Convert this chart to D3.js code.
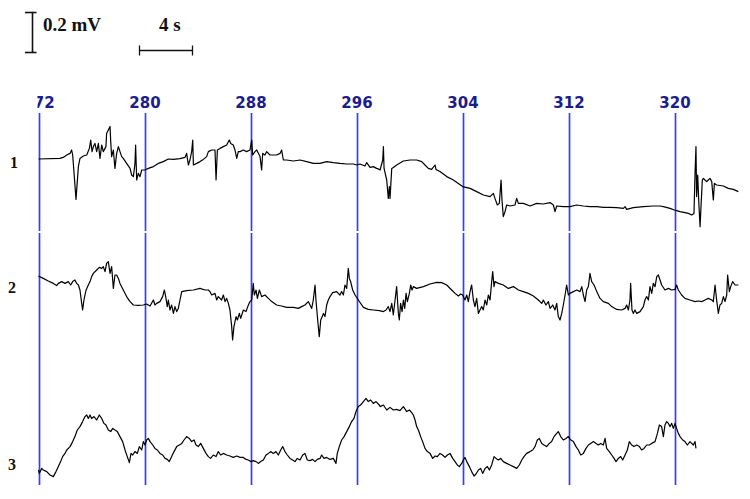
<!DOCTYPE html>
<html><head><meta charset="utf-8">
<script src="https://cdn.jsdelivr.net/npm/d3@7"></script>
<style>html,body{margin:0;padding:0;background:#fff;}svg{display:block;}</style>
</head><body><svg id="c" width="750" height="499"></svg>
<script>
// ---- data (seconds, mV relative to each channel's resting level) ----
const tickSeconds = [272, 280, 288, 296, 304, 312, 320];
const channelLabels = ["1", "2", "3"];
const scaleBarMv = 0.2;
const scaleBarSeconds = 4;

const ch1Time = [272.00,273.62,273.87,274.13,274.38,274.50,274.58,274.83,275.01,275.13,275.38,275.64,275.84,275.94,276.04,276.14,276.26,276.39,276.52,276.64,276.77,276.89,277.09,277.14,277.27,277.40,277.45,277.52,277.65,277.77,277.90,278.03,278.15,278.28,278.40,278.65,278.91,279.03,279.16,279.28,279.33,279.41,279.53,279.66,279.79,280.04,280.29,280.67,281.04,281.42,281.80,282.18,282.68,283.06,283.18,283.31,283.43,283.56,283.64,283.69,283.94,284.19,284.44,284.69,284.82,285.07,285.32,285.40,285.50,285.70,285.95,286.20,286.40,286.50,286.70,286.83,286.96,287.08,287.21,287.46,287.71,287.96,288.09,288.16,288.34,288.47,288.72,288.84,288.92,289.09,289.22,289.47,289.72,289.97,290.23,290.35,290.48,290.73,291.23,291.74,292.24,292.74,293.25,293.75,294.25,294.75,295.26,295.76,296.01,296.26,296.64,296.77,297.02,297.27,297.52,297.72,297.78,297.98,298.03,298.08,298.28,298.40,298.48,298.53,298.66,298.78,299.03,299.54,300.04,300.54,300.92,301.17,301.42,301.67,301.93,302.00,302.30,302.81,303.31,304.01,304.57,305.07,305.57,306.08,306.33,306.45,306.63,306.78,306.91,306.98,307.08,307.21,307.33,307.59,307.96,308.09,308.22,308.59,309.10,309.60,310.10,310.61,310.86,310.98,311.11,311.61,312.11,312.62,313.12,313.62,314.13,314.63,315.13,315.64,316.14,316.27,316.39,316.89,317.65,318.40,318.91,319.16,319.66,319.99,320.16,320.42,320.79,321.05,321.30,321.47,321.55,321.62,321.67,321.75,321.85,321.93,322.00,322.10,322.18,322.30,322.43,322.55,322.68,322.81,322.93,323.01,323.18,323.69,324.06,324.44,324.82];
const ch1Mv = [0,0.003,0.008,0.02,0.028,0.045,0.02,-0.202,-0.038,0.003,0.015,0.02,0.053,0.095,0.037,0.062,0.078,0.037,0.078,0.003,0.07,0.037,0.062,0.128,0.145,0.162,0.087,0.012,0.045,-0.047,0.028,0.062,0.037,0.012,0.003,-0.022,-0.047,-0.08,-0.088,-0.022,0.07,-0.105,-0.072,-0.088,-0.055,-0.055,-0.047,-0.038,-0.022,-0.013,0,-0.002,0.002,0.008,0.028,-0.03,-0.005,0.037,0.095,-0.03,-0.022,-0.013,-0.002,0.012,0.037,0.045,0.045,-0.105,0.045,0.053,0.062,0.07,0.095,0.078,0.07,0.045,0.003,0.037,0.037,0.045,0.037,0.045,0.095,0.02,0.037,0.045,0.012,-0.055,0.028,0.02,0.037,0.02,0.02,0.02,0.028,0.045,-0.005,-0.005,-0.01,-0.005,-0.013,-0.022,-0.022,-0.013,-0.018,-0.022,-0.025,-0.025,-0.03,-0.025,-0.035,-0.018,-0.042,-0.038,-0.047,-0.052,-0.055,-0.005,0.062,-0.047,-0.105,-0.197,-0.138,-0.197,-0.047,-0.042,-0.03,-0.01,-0.005,-0.005,-0.013,-0.03,-0.047,-0.052,-0.03,-0.052,-0.063,-0.088,-0.105,-0.138,-0.147,-0.163,-0.18,-0.188,-0.172,-0.197,-0.23,-0.222,-0.105,-0.205,-0.288,-0.263,-0.23,-0.235,-0.23,-0.197,-0.222,-0.222,-0.235,-0.222,-0.225,-0.218,-0.23,-0.263,-0.235,-0.238,-0.238,-0.23,-0.235,-0.238,-0.238,-0.242,-0.242,-0.243,-0.247,-0.238,-0.252,-0.243,-0.238,-0.235,-0.235,-0.238,-0.247,-0.255,-0.258,-0.263,-0.268,-0.272,-0.28,-0.272,-0.072,0.062,-0.188,-0.08,-0.238,-0.338,-0.238,-0.105,-0.097,-0.105,-0.113,-0.105,-0.097,-0.113,-0.205,-0.122,-0.13,-0.135,-0.147,-0.152,-0.163];

const ch2Time = [272.00,272.36,272.74,273.12,273.37,273.50,273.75,274.00,274.25,274.43,274.58,274.75,274.88,275.01,275.13,275.26,275.33,275.43,275.59,275.76,275.89,276.01,276.14,276.39,276.59,276.77,276.89,277.02,277.14,277.27,277.40,277.52,277.65,277.77,277.90,278.03,278.15,278.40,278.65,278.91,279.16,279.53,279.91,280.16,280.42,280.67,280.79,280.92,281.17,281.37,281.50,281.60,281.72,281.80,281.92,282.05,282.18,282.30,282.43,282.55,282.68,282.81,283.18,283.69,284.19,284.57,284.82,284.94,285.07,285.32,285.45,285.57,285.82,285.95,286.08,286.20,286.33,286.45,286.58,286.65,286.75,286.91,287.01,287.16,287.26,287.46,287.66,287.84,287.96,288.09,288.21,288.29,288.42,288.52,288.67,288.84,289.09,289.35,289.60,289.97,290.35,290.73,291.23,291.61,291.86,292.11,292.36,292.62,292.74,292.87,292.94,293.07,293.19,293.30,293.42,293.50,293.62,293.75,293.87,294.00,294.20,294.50,294.75,294.88,295.01,295.13,295.26,295.38,295.46,295.56,295.71,295.89,296.14,296.52,296.89,297.27,297.72,298.03,298.23,298.40,298.53,298.66,298.78,298.91,299.03,299.16,299.23,299.33,299.44,299.54,299.64,299.74,299.84,299.99,300.09,300.19,300.29,300.54,301.05,301.55,302.05,302.43,302.81,303.18,303.44,303.69,303.86,304.01,304.19,304.32,304.44,304.57,304.69,304.82,304.94,305.07,305.20,305.32,305.45,305.57,305.70,305.83,305.95,306.08,306.20,306.28,306.38,306.45,306.71,307.08,307.46,307.84,308.22,308.59,308.97,309.35,309.72,309.98,310.10,310.30,310.48,310.61,310.81,310.98,311.11,311.23,311.36,311.49,311.61,311.74,311.86,311.99,312.11,312.37,312.62,312.87,313.00,313.12,313.25,313.37,313.50,313.62,313.75,313.93,314.13,314.38,314.63,315.01,315.26,315.64,316.01,316.27,316.39,316.52,316.64,316.69,316.79,316.89,317.02,317.15,317.40,317.65,317.77,317.90,318.03,318.15,318.28,318.40,318.53,318.66,318.78,318.91,319.03,319.28,319.54,319.79,320.04,320.16,320.29,320.54,320.79,321.17,321.55,321.80,322.05,322.30,322.55,322.81,322.93,323.06,323.18,323.31,323.43,323.56,323.69,323.81,323.94,324.01,324.14,324.24,324.39,324.57,324.82];
const ch2Mv = [0,-0.012,-0.025,-0.037,-0.048,-0.037,-0.028,-0.037,-0.028,-0.045,-0.028,-0.02,-0.037,-0.045,-0.07,-0.137,-0.17,-0.12,-0.07,-0.045,-0.028,-0.003,0.013,0.03,0.043,0.038,0.047,0.022,0.063,0.072,0.013,0.047,-0.062,0.005,0.005,-0.012,-0.037,-0.07,-0.103,-0.128,-0.145,-0.147,-0.145,-0.14,-0.15,-0.12,-0.145,-0.137,-0.128,-0.103,-0.07,-0.103,-0.153,-0.12,-0.17,-0.145,-0.187,-0.153,-0.178,-0.162,-0.12,-0.078,-0.073,-0.07,-0.062,-0.07,-0.07,-0.078,-0.095,-0.087,-0.12,-0.103,-0.12,-0.095,-0.128,-0.112,-0.137,-0.17,-0.253,-0.32,-0.253,-0.203,-0.22,-0.187,-0.212,-0.17,-0.178,-0.145,-0.128,-0.12,-0.037,-0.095,-0.07,-0.112,-0.07,-0.103,-0.095,-0.112,-0.128,-0.145,-0.15,-0.157,-0.157,-0.162,-0.153,-0.145,-0.128,-0.162,-0.12,-0.045,-0.12,-0.22,-0.303,-0.22,-0.203,-0.187,-0.203,-0.145,-0.12,-0.103,-0.083,-0.078,-0.095,-0.078,-0.095,-0.045,-0.062,0.038,-0.012,-0.028,-0.07,-0.095,-0.12,-0.157,-0.167,-0.17,-0.173,-0.178,-0.17,-0.153,-0.178,-0.137,-0.195,-0.12,-0.053,-0.187,-0.22,-0.137,-0.178,-0.12,-0.162,-0.087,-0.128,-0.087,-0.045,-0.07,-0.053,-0.062,-0.053,-0.04,-0.032,-0.033,-0.045,-0.07,-0.087,-0.1,-0.09,-0.095,-0.12,-0.095,-0.128,-0.078,-0.045,-0.12,-0.153,-0.112,-0.187,-0.17,-0.153,-0.17,-0.12,-0.145,-0.095,-0.12,-0.028,0.022,-0.053,-0.028,-0.037,-0.045,-0.062,-0.053,-0.07,-0.078,-0.087,-0.1,-0.12,-0.137,-0.12,-0.145,-0.128,-0.162,-0.145,-0.17,-0.137,-0.203,-0.22,-0.187,-0.145,-0.095,-0.045,-0.095,-0.087,-0.078,-0.07,-0.078,-0.053,-0.095,-0.128,-0.07,-0.053,0.013,-0.028,-0.045,-0.078,-0.112,-0.128,-0.137,-0.153,-0.167,-0.17,-0.162,-0.145,-0.17,-0.12,-0.037,-0.17,-0.187,-0.17,-0.187,-0.178,-0.153,-0.12,-0.103,-0.12,-0.053,-0.087,-0.037,-0.053,-0.003,0.005,-0.02,-0.045,-0.07,-0.062,-0.07,-0.067,-0.045,-0.07,-0.095,-0.112,-0.12,-0.128,-0.125,-0.128,-0.12,-0.112,-0.12,-0.128,-0.045,-0.12,-0.187,-0.145,-0.137,-0.103,-0.128,-0.095,0.005,-0.078,-0.053,-0.028,-0.045,-0.045];

const ch3Time = [272.00,272.06,272.24,272.36,272.62,272.87,273.12,273.32,273.50,273.67,273.82,274.00,274.13,274.38,274.58,274.75,274.93,275.13,275.33,275.51,275.64,275.76,275.89,276.01,276.19,276.39,276.59,276.77,276.94,277.09,277.27,277.45,277.60,277.77,277.95,278.15,278.35,278.53,278.70,278.86,278.98,279.11,279.28,279.46,279.61,279.79,279.91,280.04,280.16,280.29,280.42,280.62,280.79,280.97,281.17,281.37,281.55,281.72,281.87,282.05,282.23,282.43,282.63,282.81,282.98,283.18,283.38,283.56,283.74,283.89,284.06,284.24,284.44,284.64,284.82,284.99,285.19,285.40,285.57,285.75,285.95,286.20,286.45,286.70,286.96,287.21,287.46,287.66,287.84,288.01,288.21,288.42,288.59,288.77,288.97,289.17,289.35,289.52,289.72,289.92,290.10,290.28,290.43,290.60,290.78,290.98,291.18,291.36,291.53,291.74,291.94,292.11,292.29,292.49,292.69,292.87,293.04,293.25,293.37,293.55,293.75,294.00,294.25,294.45,294.55,294.70,294.88,295.06,295.26,295.46,295.63,295.81,295.96,296.14,296.31,296.52,296.72,296.89,297.07,297.27,297.47,297.72,297.78,298.03,298.28,298.53,298.78,299.03,299.28,299.54,299.79,299.99,300.17,300.29,300.42,300.54,300.67,300.84,300.99,301.17,301.35,301.55,301.75,301.93,302.10,302.30,302.50,302.68,302.86,303.06,303.26,303.44,303.61,303.76,303.94,304.06,304.19,304.32,304.52,304.69,304.87,305.02,305.20,305.37,305.52,305.70,305.88,306.03,306.20,306.38,306.53,306.71,306.88,307.08,307.33,307.59,307.84,308.09,308.29,308.47,308.64,308.84,309.10,309.30,309.47,309.65,309.80,309.98,310.15,310.35,310.55,310.73,310.91,311.11,311.23,311.41,311.61,311.81,311.99,312.17,312.37,312.57,312.74,312.92,313.12,313.32,313.50,313.67,313.88,314.08,314.25,314.43,314.63,314.76,314.88,315.08,315.26,315.44,315.59,315.76,315.94,316.09,316.27,316.44,316.59,316.77,316.94,317.15,317.35,317.52,317.70,317.90,318.10,318.28,318.53,318.71,318.86,319.03,319.16,319.28,319.41,319.54,319.66,319.79,319.91,320.04,320.16,320.29,320.42,320.62,320.79,320.97,321.17,321.30,321.42,321.55,321.62];
const ch3Mv = [0,-0.017,0.008,0,-0.008,-0.025,-0.033,-0.008,0.017,0.042,0.067,0.083,0.1,0.117,0.142,0.167,0.2,0.217,0.242,0.267,0.275,0.258,0.275,0.258,0.267,0.25,0.275,0.258,0.233,0.225,0.2,0.192,0.208,0.2,0.192,0.167,0.142,0.1,0.067,0.037,0.083,0.075,0.092,0.083,0.117,0.1,0.142,0.125,0.15,0.158,0.142,0.125,0.108,0.1,0.083,0.075,0.058,0.053,0.042,0.067,0.092,0.117,0.125,0.133,0.15,0.167,0.158,0.142,0.15,0.125,0.117,0.133,0.108,0.083,0.067,0.058,0.075,0.067,0.092,0.075,0.083,0.075,0.07,0.063,0.07,0.063,0.063,0.053,0.05,0.042,0.047,0.042,0.033,0.042,0.05,0.075,0.083,0.092,0.083,0.092,0.075,0.1,0.117,0.092,0.075,0.058,0.05,0.042,0.058,0.05,0.075,0.083,0.05,0.047,0.053,0.042,0.053,0.058,0.075,0.058,0.063,0.053,0.058,0.033,0.083,0.117,0.15,0.167,0.192,0.217,0.242,0.258,0.292,0.317,0.325,0.342,0.358,0.342,0.35,0.333,0.342,0.325,0.317,0.325,0.3,0.313,0.3,0.303,0.297,0.317,0.292,0.3,0.287,0.275,0.25,0.217,0.2,0.167,0.142,0.108,0.092,0.083,0.058,0.07,0.067,0.083,0.075,0.063,0.075,0.083,0.058,0.042,0.025,0.017,0.033,0.05,0.063,0.042,0.017,-0.008,-0.03,-0.02,0,0.008,-0.017,0.008,0.017,0,0.025,0.067,0.058,0.05,0.058,0.042,0.033,0.025,0.017,0.008,0.025,0.05,0.067,0.083,0.092,0.1,0.117,0.15,0.158,0.133,0.125,0.117,0.133,0.142,0.167,0.183,0.192,0.167,0.15,0.158,0.167,0.15,0.142,0.117,0.1,0.075,0.083,0.108,0.125,0.133,0.142,0.133,0.125,0.133,0.125,0.158,0.108,0.092,0.075,0.058,0.042,0.058,0.067,0.05,0.075,0.1,0.142,0.125,0.117,0.125,0.117,0.1,0.108,0.125,0.125,0.133,0.142,0.183,0.225,0.217,0.167,0.225,0.242,0.233,0.217,0.233,0.208,0.233,0.208,0.183,0.167,0.15,0.142,0.125,0.142,0.133,0.125,0.142,0.108];

// ---- layout ----
const W = 750, H = 499;
const svg = d3.select("#c");
const x = d3.scaleLinear().domain([272, 325]).range([38.5, 740.75]);
const pxPerMv = 200;
const baselines = [159, 276, 470];
const yScales = baselines.map(b => d3.scaleLinear().domain([-1, 1]).range([b + pxPerMv, b - pxPerMv]));

// vertical time gridlines (with small break like the original)
const gridSegments = [[113, 231], [233, 485]];
const grid = svg.append("g").attr("class", "grid");
tickSeconds.forEach(t => {
  gridSegments.forEach(([a, b]) => {
    grid.append("line")
      .attr("x1", Math.round(x(t)) + 0.5).attr("x2", Math.round(x(t)) + 0.5)
      .attr("y1", a).attr("y2", b)
      .attr("stroke", "#3a3aff").attr("stroke-width", 1.7);
  });
});

// tick labels via axis, clipped at the left edge of the record
svg.append("defs").append("clipPath").attr("id", "clipL")
  .append("rect").attr("x", 37.5).attr("y", -H).attr("width", W).attr("height", 2 * H);
const axis = svg.append("g")
  .attr("transform", "translate(0,108)")
  .attr("clip-path", "url(#clipL)")
  .call(d3.axisTop(x).tickValues(tickSeconds).tickSize(0).tickPadding(0).tickFormat(d3.format("d")));
axis.select(".domain").remove();
axis.selectAll("text")
  .attr("y", 0)
  .attr("dy", 0)
  .attr("fill", "#1c1c8c")
  .style("font-family", "'DejaVu Sans', sans-serif")
  .style("font-weight", "bold")
  .style("font-size", "15px");

// traces
const series = [[ch1Time, ch1Mv], [ch2Time, ch2Mv], [ch3Time, ch3Mv]];
series.forEach(([ts, vs], i) => {
  const pts = ts.map((t, k) => [t, vs[k]]);
  const line = d3.line().x(d => x(d[0])).y(d => yScales[i](d[1]));
  svg.append("path").datum(pts)
    .attr("d", line)
    .attr("fill", "none")
    .attr("stroke", "#000")
    .attr("stroke-width", 1.2)
    .attr("stroke-linejoin", "round");
});

// channel labels
const labelBaselines = [168, 293, 470];
const labelX = [10, 8, 8];
channelLabels.forEach((lab, i) => {
  svg.append("text").text(lab)
    .attr("x", labelX[i]).attr("y", labelBaselines[i])
    .attr("fill", "#111")
    .style("font-family", "'Liberation Serif', 'Times New Roman', serif")
    .style("font-weight", "bold").style("font-size", "16px");
});

// scale bars
const vbX = 32.5, vbTop = 12.5, vbLen = scaleBarMv * pxPerMv;
const sb = svg.append("g").attr("stroke", "#111").attr("stroke-width", 1.6);
sb.append("line").attr("x1", vbX).attr("x2", vbX).attr("y1", vbTop).attr("y2", vbTop + vbLen);
sb.append("line").attr("x1", vbX - 7.5).attr("x2", vbX + 4).attr("y1", vbTop).attr("y2", vbTop);
sb.append("line").attr("x1", vbX - 7.5).attr("x2", vbX + 4).attr("y1", vbTop + vbLen).attr("y2", vbTop + vbLen);
const hbX = 139.5, hbY = 50.5, hbLen = x(272 + scaleBarSeconds) - x(272);
sb.append("line").attr("x1", hbX).attr("x2", hbX + hbLen).attr("y1", hbY).attr("y2", hbY).attr("stroke-width", 1.3);
sb.append("line").attr("x1", hbX).attr("x2", hbX).attr("y1", hbY - 5).attr("y2", hbY + 5).attr("stroke-width", 1.3);
sb.append("line").attr("x1", hbX + hbLen).attr("x2", hbX + hbLen).attr("y1", hbY - 5).attr("y2", hbY + 5).attr("stroke-width", 1.3);

const txtStyle = s => s.attr("fill", "#111")
  .style("font-family", "'Liberation Serif', 'Times New Roman', serif")
  .style("font-weight", "bold").style("font-size", "19px");
svg.append("text").text(scaleBarMv + " mV").attr("x", 43).attr("y", 31).call(txtStyle);
svg.append("text").text(scaleBarSeconds + " s").attr("x", 159).attr("y", 31).call(txtStyle);
</script></body></html>
